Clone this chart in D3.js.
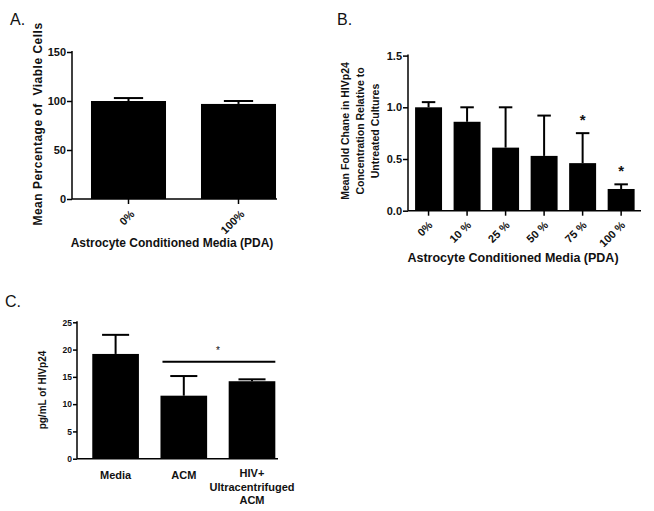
<!DOCTYPE html>
<html>
<head>
<meta charset="utf-8">
<script src="https://cdn.jsdelivr.net/npm/d3@7"></script>
<style>
  body { margin: 0; background: #fff; }
  svg { display: block; font-family: 'Liberation Sans', Arial, sans-serif; }
  text { fill: #111; }
</style>
</head>
<body>
<svg id="chart" width="654" height="511"></svg>
<script>
// Panel A: viability
const viabilityGroups = ['0%', '100%']
const viabilityMeans = [100, 97]
const viabilityErr = [3, 3]
const viabilityTicks = [0, 50, 100, 150]

// Panel B: fold change in HIVp24
const pdaGroups = ['0%', '10 %', '25 %', '50 %', '75 %', '100 %']
const pdaMeans = [1.0, 0.86, 0.61, 0.53, 0.46, 0.21]
const pdaErr = [0.05, 0.14, 0.39, 0.39, 0.29, 0.045]
const pdaStars = [false, false, false, false, true, true]
const pdaTicks = [0, 0.5, 1.0, 1.5]

// Panel C: pg/mL HIVp24
const acmGroups = [['Media'], ['ACM'], ['HIV+', 'Ultracentrifuged', 'ACM']]
const acmMeans = [19.2, 11.55, 14.2]
const acmErr = [3.5, 3.6, 0.35]
const acmTicks = [0, 5, 10, 15, 20, 25]

const svg = d3.select('#chart')

function panel(opts) {
  const g = svg.append('g')
  const n = opts.means.length
  const x = d3
    .scaleBand()
    .domain(d3.range(n))
    .range(opts.xRange)
    .paddingInner(opts.padIn)
    .paddingOuter(opts.padIn / 2)
  const y = d3.scaleLinear().domain(opts.yDomain).range(opts.yRange)

  // bars
  g.selectAll('rect.bar')
    .data(opts.means)
    .enter()
    .append('rect')
    .attr('class', 'bar')
    .attr('x', (d, i) => x(i))
    .attr('width', x.bandwidth())
    .attr('y', d => y(d))
    .attr('height', d => y(0) - y(d))
    .attr('fill', '#000')

  // error bars (upper only)
  const capW = x.bandwidth() * opts.cap
  opts.means.forEach((m, i) => {
    const cx = x(i) + x.bandwidth() / 2
    const top = y(m + opts.err[i])
    g.append('line')
      .attr('x1', cx).attr('x2', cx)
      .attr('y1', y(m)).attr('y2', top)
      .attr('stroke', '#000').attr('stroke-width', 2)
    g.append('line')
      .attr('x1', cx - capW / 2).attr('x2', cx + capW / 2)
      .attr('y1', top).attr('y2', top)
      .attr('stroke', '#000').attr('stroke-width', 2)
  })

  // y axis
  const yAxis = d3.axisLeft(y).tickValues(opts.yTicks).tickSize(opts.tickLen).tickFormat(opts.yFormat)
  const ya = g.append('g')
    .attr('transform', 'translate(' + opts.axisX[0] + ',0)')
    .call(yAxis)
  ya.select('.domain').attr('d', 'M0,' + y(0) + 'V' + (y(opts.yTicks[opts.yTicks.length - 1]) - 1))
  ya.selectAll('line, path').attr('stroke', '#000').attr('stroke-width', 1.5)
  ya.selectAll('text')
    .attr('font-size', opts.tickFont)
    .attr('font-weight', 'bold')
    .attr('x', -opts.tickLen - 1)

  // x axis
  const xAxis = d3.axisBottom(x).tickSize(opts.xTickLen).tickFormat('')
  const xa = g.append('g')
    .attr('transform', 'translate(0,' + y(0) + ')')
    .call(xAxis)
  xa.select('.domain').attr('d', 'M' + opts.axisX[0] + ',0H' + opts.axisX[1])
  xa.selectAll('line, path').attr('stroke', '#000').attr('stroke-width', 1.5)

  return { g, x, y }
}

// ---------- Panel A ----------
const a = panel({
  means: viabilityMeans, err: viabilityErr,
  xRange: [73.5, 293.5], padIn: 0.318, cap: 0.39,
  yDomain: [0, 150], yRange: [199, 52], yTicks: viabilityTicks,
  yFormat: d3.format('d'), tickLen: 5, xTickLen: 5, tickFont: 11,
  axisX: [72, 277]
})
a.g.selectAll('text.xlab')
  .data(viabilityGroups)
  .enter()
  .append('text')
  .attr('class', 'xlab')
  .attr('transform', (d, i) => 'translate(' + (a.x(i) + a.x.bandwidth() / 2 + 4) + ',212) rotate(-45)')
  .attr('text-anchor', 'end')
  .attr('dy', '0.35em')
  .attr('font-size', 11)
  .attr('font-weight', 'bold')
  .text(d => d)
svg.append('text').attr('x', 10).attr('y', 25).attr('font-size', 16).text('A.')
svg.append('text')
  .attr('transform', 'translate(42,124) rotate(-90)')
  .attr('text-anchor', 'middle')
  .attr('font-size', 12).attr('font-weight', 'bold')
  .attr('letter-spacing', 0.5)
  .style('white-space', 'pre')
  .text('Mean Percentage of  Viable Cells')
svg.append('text')
  .attr('x', 172).attr('y', 247)
  .attr('text-anchor', 'middle')
  .attr('font-size', 12).attr('font-weight', 'bold')
  .text('Astrocyte Conditioned Media (PDA)')

// ---------- Panel B ----------
const b = panel({
  means: pdaMeans, err: pdaErr,
  xRange: [409.3, 640.4], padIn: 0.3, cap: 0.5,
  yDomain: [0, 1.5], yRange: [210.7, 55.6], yTicks: pdaTicks,
  yFormat: d3.format('.1f'), tickLen: 5, xTickLen: 5, tickFont: 11,
  axisX: [408, 641]
})
b.g.selectAll('text.xlab')
  .data(pdaGroups)
  .enter()
  .append('text')
  .attr('class', 'xlab')
  .attr('transform', (d, i) => 'translate(' + (b.x(i) + b.x.bandwidth() / 2 + 2) + ',223) rotate(-45)')
  .attr('text-anchor', 'end')
  .attr('dy', '0.35em')
  .attr('font-size', 11)
  .attr('font-weight', 'bold')
  .style('white-space', 'pre')
  .text(d => d)
// significance stars
pdaMeans.forEach((m, i) => {
  if (!pdaStars[i]) return
  b.g.append('text')
    .attr('x', b.x(i) + b.x.bandwidth() / 2)
    .attr('y', b.y(m + pdaErr[i]) - 8)
    .attr('text-anchor', 'middle')
    .attr('font-size', 15).attr('font-weight', 'bold')
    .text('*')
})
svg.append('text').attr('x', 337).attr('y', 25).attr('font-size', 16).text('B.')
const bLabel = svg.append('text')
  .attr('transform', 'translate(360,131) rotate(-90)')
  .attr('text-anchor', 'middle')
  .attr('font-size', 10.5).attr('font-weight', 'bold')
;['Mean Fold Chane in HIVp24', 'Concentration Relative to', 'Untreated Cultures'].forEach((t, i) => {
  bLabel.append('tspan').attr('x', 0).attr('y', (i - 1) * 15 + 4).text(t)
})
svg.append('text')
  .attr('x', 513).attr('y', 262)
  .attr('text-anchor', 'middle')
  .attr('font-size', 12.5).attr('font-weight', 'bold')
  .text('Astrocyte Conditioned Media (PDA)')

// ---------- Panel C ----------
const c = panel({
  means: acmMeans, err: acmErr,
  xRange: [81.5, 286.1], padIn: 0.316, cap: 0.58,
  yDomain: [0, 25], yRange: [458.7, 322.3], yTicks: acmTicks,
  yFormat: d3.format('d'), tickLen: 4, xTickLen: 0, tickFont: 8.5,
  axisX: [77, 278]
})
c.g.selectAll('text.xlab')
  .data(acmGroups)
  .enter()
  .append('text')
  .attr('class', 'xlab')
  .attr('text-anchor', 'middle')
  .attr('font-size', 11).attr('font-weight', 'bold')
  .each(function(d, i) {
    const t = d3.select(this)
    d.forEach((line, j) => {
      t.append('tspan')
        .attr('x', c.x(i) + c.x.bandwidth() / 2)
        .attr('y', (d.length > 1 ? 477 : 479) + j * 13.5)
        .text(line)
    })
  })
// significance bar between ACM groups
c.g.append('line')
  .attr('x1', c.x(1) + 2).attr('x2', c.x(2) + c.x.bandwidth())
  .attr('y1', 361.7).attr('y2', 361.7)
  .attr('stroke', '#000').attr('stroke-width', 2)
c.g.append('text')
  .attr('x', (c.x(1) + c.x(2) + c.x.bandwidth()) / 2)
  .attr('y', 354)
  .attr('text-anchor', 'middle')
  .attr('font-size', 10)
  .text('*')
svg.append('text').attr('x', 5).attr('y', 307).attr('font-size', 16).text('C.')
svg.append('text')
  .attr('transform', 'translate(46,390) rotate(-90)')
  .attr('text-anchor', 'middle')
  .attr('font-size', 10).attr('font-weight', 'bold')
  .text('pg/mL of HIVp24')
</script>
</body>
</html>
